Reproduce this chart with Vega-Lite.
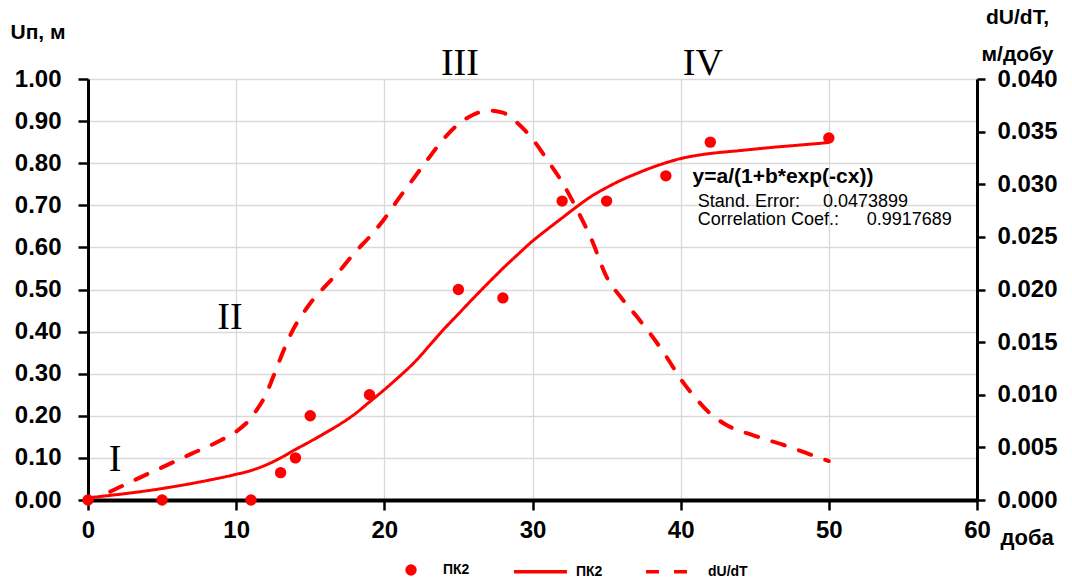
{
  "$schema": "https://vega.github.io/schema/vega-lite/v6.json",
  "width": 889,
  "height": 421,
  "autosize": {"type": "none"},
  "padding": {"left": 88, "top": 79, "right": 95, "bottom": 83},
  "config": {"view": {"stroke": null}, "font": "Liberation Sans"},
  "datasets": {
    "pts": [
      {"t": 0, "u": 0}, {"t": 5, "u": 0}, {"t": 11, "u": 0}, {"t": 13, "u": 0.065},
      {"t": 14, "u": 0.1}, {"t": 15, "u": 0.2}, {"t": 19, "u": 0.25}, {"t": 25, "u": 0.5},
      {"t": 28, "u": 0.48}, {"t": 32, "u": 0.71}, {"t": 35, "u": 0.71}, {"t": 39, "u": 0.77},
      {"t": 42, "u": 0.85}, {"t": 50, "u": 0.86}
    ],
    "fit": [
      {"t": 0, "u": 0.005}, {"t": 1, "u": 0.009}, {"t": 2, "u": 0.013}, {"t": 4, "u": 0.022},
      {"t": 6, "u": 0.033}, {"t": 8, "u": 0.046}, {"t": 10, "u": 0.061}, {"t": 11, "u": 0.07},
      {"t": 12, "u": 0.083}, {"t": 13, "u": 0.1}, {"t": 14, "u": 0.12}, {"t": 15, "u": 0.139},
      {"t": 16, "u": 0.159}, {"t": 17, "u": 0.18}, {"t": 18, "u": 0.204}, {"t": 19, "u": 0.233},
      {"t": 20, "u": 0.262}, {"t": 21, "u": 0.293}, {"t": 22, "u": 0.326}, {"t": 23, "u": 0.365},
      {"t": 24, "u": 0.405}, {"t": 25, "u": 0.442}, {"t": 26, "u": 0.479}, {"t": 27, "u": 0.515},
      {"t": 28, "u": 0.55}, {"t": 29, "u": 0.583}, {"t": 30, "u": 0.615}, {"t": 31, "u": 0.643},
      {"t": 32, "u": 0.67}, {"t": 33, "u": 0.697}, {"t": 34, "u": 0.722}, {"t": 35, "u": 0.742},
      {"t": 36, "u": 0.76}, {"t": 37, "u": 0.775}, {"t": 38, "u": 0.789}, {"t": 39, "u": 0.801},
      {"t": 40, "u": 0.811}, {"t": 41, "u": 0.818}, {"t": 42, "u": 0.823}, {"t": 44, "u": 0.83},
      {"t": 46, "u": 0.837}, {"t": 48, "u": 0.843}, {"t": 50, "u": 0.849}
    ],
    "deriv": [
      {"t": 1.5, "d": 0.0008}, {"t": 3, "d": 0.0018}, {"t": 5, "d": 0.0031}, {"t": 7, "d": 0.0044},
      {"t": 9, "d": 0.0057}, {"t": 10, "d": 0.0065}, {"t": 11, "d": 0.0078}, {"t": 11.5, "d": 0.0088},
      {"t": 12, "d": 0.01}, {"t": 12.5, "d": 0.0117}, {"t": 13, "d": 0.0135}, {"t": 13.5, "d": 0.0152},
      {"t": 14, "d": 0.0166}, {"t": 14.5, "d": 0.0177}, {"t": 15, "d": 0.0187}, {"t": 16, "d": 0.0203},
      {"t": 17, "d": 0.0218}, {"t": 18, "d": 0.0235}, {"t": 19, "d": 0.025}, {"t": 20, "d": 0.0267},
      {"t": 21, "d": 0.0287}, {"t": 22, "d": 0.0306}, {"t": 23, "d": 0.0325}, {"t": 24, "d": 0.0343},
      {"t": 25, "d": 0.0357}, {"t": 26, "d": 0.0366}, {"t": 27, "d": 0.037}, {"t": 28, "d": 0.0368},
      {"t": 29, "d": 0.0358}, {"t": 30, "d": 0.0343}, {"t": 31, "d": 0.0323}, {"t": 32, "d": 0.0302},
      {"t": 33, "d": 0.0276}, {"t": 34, "d": 0.0247}, {"t": 35, "d": 0.0212}, {"t": 36, "d": 0.0192},
      {"t": 37, "d": 0.0175}, {"t": 38, "d": 0.0157}, {"t": 39, "d": 0.0137}, {"t": 40, "d": 0.0115},
      {"t": 41, "d": 0.0097}, {"t": 42, "d": 0.0082}, {"t": 43, "d": 0.0072}, {"t": 45, "d": 0.0061},
      {"t": 47, "d": 0.0052}, {"t": 49, "d": 0.0042}, {"t": 50, "d": 0.0037}
    ],
    "roman": [
      {"t": 1.82, "u": 0.095, "label": "I"},
      {"t": 9.58, "u": 0.432, "label": "II"},
      {"t": 25.1, "u": 1.035, "label": "III"},
      {"t": 41.5, "u": 1.035, "label": "IV"}
    ],
    "formula": [
      {"t": 40.8, "u": 0.767, "label": "y=a/(1+b*exp(-cx))"}
    ],
    "stats": [
      {"t": 41.16, "u": 0.708, "label": "Stand. Error:"},
      {"t": 49.6, "u": 0.708, "label": "0.0473899"},
      {"t": 41.16, "u": 0.665, "label": "Correlation Coef.:"},
      {"t": 52.56, "u": 0.665, "label": "0.9917689"}
    ]
  },
  "encoding": {
    "x": {
      "field": "t",
      "type": "quantitative",
      "scale": {"domain": [0, 60], "nice": false, "zero": false},
      "axis": {
        "values": [0, 10, 20, 30, 40, 50, 60],
        "grid": true,
        "gridColor": "#d9d9d9",
        "gridWidth": 1.3,
        "domainColor": "black",
        "domainWidth": 4,
        "tickColor": "black",
        "tickWidth": 2.5,
        "tickSize": 10,
        "labelFlush": false,
        "labelOverlap": false,
        "labelFont": "Liberation Sans",
        "labelFontWeight": "bold",
        "labelFontSize": 24,
        "labelColor": "black",
        "labelPadding": 8,
        "title": "доба",
        "titleAngle": 0,
        "titleX": 912,
        "titleY": 37,
        "titleAlign": "left",
        "titleBaseline": "middle",
        "titleFont": "Liberation Sans",
        "titleFontSize": 22,
        "titleFontWeight": "bold",
        "titleColor": "black"
      }
    }
  },
  "layer": [
    {
      "encoding": {
        "y": {
          "field": "u",
          "type": "quantitative",
          "scale": {"domain": [0, 1], "nice": false},
          "axis": {
            "orient": "left",
            "values": [0, 0.1, 0.2, 0.3, 0.4, 0.5, 0.6, 0.7, 0.8, 0.9, 1.0],
            "format": ".2f",
            "grid": true,
            "gridColor": "#d9d9d9",
            "gridWidth": 1.3,
            "domainColor": "black",
            "domainWidth": 3,
            "tickColor": "black",
            "tickWidth": 2.5,
            "tickSize": 10,
            "labelOverlap": false,
            "labelFont": "Liberation Sans",
            "labelFontWeight": "bold",
            "labelFontSize": 24,
            "labelColor": "black",
            "labelPadding": 17,
            "title": "Uп, м",
            "titleAngle": 0,
            "titleX": -78,
            "titleY": -47,
            "titleAlign": "left",
            "titleBaseline": "middle",
            "titleFont": "Liberation Sans",
            "titleFontSize": 21,
            "titleFontWeight": "bold",
            "titleColor": "black"
          }
        }
      },
      "layer": [
        {
          "data": {"name": "fit"},
          "mark": {"type": "line", "color": "#ff0000", "strokeWidth": 3, "interpolate": "monotone"},
          "encoding": {
            "strokeDash": {
              "datum": "ПК2",
              "type": "nominal",
              "scale": {"domain": ["ПК2", "dU/dT"], "range": [[1, 0], [13, 15]]},
              "legend": {
                "orient": "none",
                "direction": "horizontal",
                "legendX": 424,
                "legendY": 464,
                "title": null,
                "symbolType": "stroke",
                "symbolSize": 2800,
                "symbolStrokeColor": "#ff0000",
                "symbolStrokeWidth": 3.5,
                "labelFont": "Liberation Sans",
                "labelFontWeight": "bold",
                "labelFontSize": 14,
                "labelColor": "black",
                "labelOffset": 7,
                "columnPadding": 36,
                "padding": 0
              }
            }
          }
        },
        {
          "data": {"name": "pts"},
          "mark": {"type": "point", "filled": true, "color": "#ff0000", "opacity": 1, "size": 130},
          "encoding": {
            "shape": {
              "datum": "ПК2",
              "type": "nominal",
              "scale": {"range": ["circle"]},
              "legend": {
                "orient": "none",
                "legendX": 316,
                "legendY": 484,
                "title": null,
                "symbolFillColor": "#ff0000",
                "symbolStrokeColor": "#ff0000",
                "symbolOpacity": 1,
                "symbolSize": 130,
                "labelFont": "Liberation Sans",
                "labelFontWeight": "bold",
                "labelFontSize": 14,
                "labelColor": "black",
                "labelOffset": 25,
                "padding": 0
              }
            }
          }
        },
        {
          "data": {"name": "roman"},
          "mark": {"type": "text", "font": "Liberation Serif", "fontSize": 38, "color": "black", "align": "center", "baseline": "middle"},
          "encoding": {"text": {"field": "label"}}
        },
        {
          "data": {"name": "formula"},
          "mark": {"type": "text", "font": "Liberation Sans", "fontSize": 21, "fontWeight": "bold", "color": "black", "align": "left", "baseline": "middle"},
          "encoding": {"text": {"field": "label"}}
        },
        {
          "data": {"name": "stats"},
          "mark": {"type": "text", "font": "Liberation Sans", "fontSize": 18, "color": "black", "align": "left", "baseline": "middle"},
          "encoding": {"text": {"field": "label"}}
        }
      ]
    },
    {
      "data": {"name": "deriv"},
      "mark": {"type": "line", "color": "#ff0000", "strokeWidth": 4, "strokeCap": "round", "interpolate": "monotone"},
      "encoding": {
        "y": {
          "field": "d",
          "type": "quantitative",
          "scale": {"domain": [0, 0.04], "nice": false},
          "axis": {
            "orient": "right",
            "values": [0, 0.005, 0.01, 0.015, 0.02, 0.025, 0.03, 0.035, 0.04],
            "format": ".3f",
            "grid": false,
            "domainColor": "black",
            "domainWidth": 3,
            "tickColor": "black",
            "tickWidth": 2.5,
            "tickSize": 8,
            "labelOverlap": false,
            "labelFont": "Liberation Sans",
            "labelFontWeight": "bold",
            "labelFontSize": 24,
            "labelColor": "black",
            "labelPadding": 12,
            "title": ["dU/dT,", "м/добу"],
            "titleAngle": 0,
            "titleX": 40,
            "titleY": -62,
            "titleAlign": "center",
            "titleBaseline": "middle",
            "titleLineHeight": 37,
            "titleFont": "Liberation Sans",
            "titleFontSize": 21,
            "titleFontWeight": "bold",
            "titleColor": "black"
          }
        },
        "strokeDash": {"datum": "dU/dT", "type": "nominal"}
      }
    }
  ],
  "resolve": {"scale": {"y": "independent"}}
}
